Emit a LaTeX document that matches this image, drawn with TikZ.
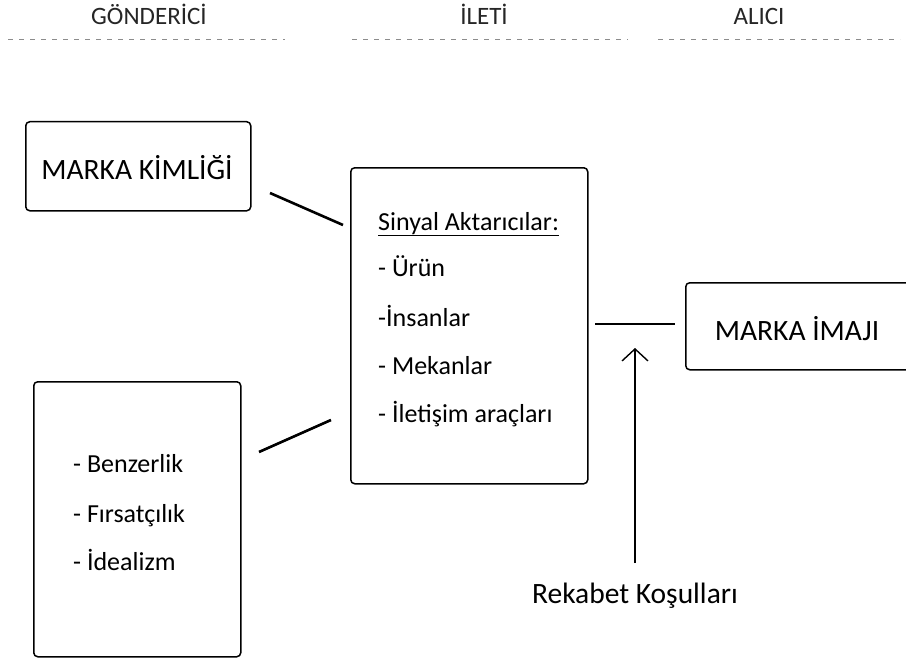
\documentclass[tikz,border=0pt]{standalone}
\usepackage{fontspec}
\setmainfont{Carlito}
\usetikzlibrary{arrows.meta}
\begin{document}
\begin{tikzpicture}[x=1pt,y=-1pt,
  box/.style={draw,line width=1.5pt,rounded corners=4pt,inner sep=0pt},
  head/.style={font=\fontsize{25}{29}\selectfont,anchor=base,text=black!85},
  big/.style={font=\fontsize{29.5}{34}\selectfont,anchor=base},
  item/.style={font=\fontsize{26}{30}\selectfont,anchor=base west,inner sep=0pt},
  sep/.style={draw=black!45,line width=0.9pt,dash pattern=on 5pt off 6pt},
  link/.style={line width=2.6pt},
  thin/.style={line width=1.4pt}]
\useasboundingbox (0,0) rectangle (906,661);
\fill[white] (0,0) rectangle (906,661);

% column headings
\node[head] (hg) at (149,25) {GÖNDERİCİ};
\node[head] (hi) at (484,25) {İLETİ};
\node[head] (ha) at (759,25) {ALICI};
\draw[sep] (8,39) -- (285,39);
\draw[sep] (352,39) -- (628,39);
\draw[sep] (658,39) -- (900,39);

% sender side
\node[box,minimum width=225pt,minimum height=89pt,anchor=north west] (kim) at (25,121) {};
\node[big] (kimt) at (137,179) {MARKA KİMLİĞİ};
\node[box,minimum width=207pt,minimum height=275pt,anchor=north west] (deg) at (33,381) {};
\node[item] (d1) at (73,472) {- Benzerlik};
\node[item] (d2) at (73,522) {- Fırsatçılık};
\node[item] (d3) at (73,570) {- İdealizm};

% message box
\node[box,minimum width=237pt,minimum height=316pt,anchor=north west] (sig) at (350,167) {};
\node[item] (s0) at (378,230) {\underline{Sinyal Aktarıcılar:}};
\node[item] (s1) at (378,276) {- Ürün};
\node[item] (s2) at (378,326) {-İnsanlar};
\node[item] (s3) at (378,374) {- Mekanlar};
\node[item] (s4) at (378,422) {- İletişim araçları};

% receiver side
\begin{scope}
\clip (0,0) rectangle (906,661);
\node[box,minimum width=245pt,minimum height=87pt,anchor=north west] (ima) at (685,282) {};
\end{scope}
\node[big] (imat) at (797,340) {MARKA İMAJI};
\node[big] (rek) at (635,603) {Rekabet Koşulları};

% connectors
\coordinate (a1) at (270,193);
\coordinate (a2) at (343,225);
\coordinate (b1) at (259,452);
\coordinate (b2) at (331,420);
\coordinate (c1) at (595,324);
\coordinate (c2) at (675,324);
\coordinate (r1) at (635,563);
\coordinate (r2) at (635,348);
\draw[link] (a1) -- (a2);
\draw[link] (b1) -- (b2);
\draw[thin] (c1) -- (c2);
\draw[thin,-{Straight Barb[length=12pt,width=26pt]}] (r1) -- (r2);
\end{tikzpicture}
\end{document}
